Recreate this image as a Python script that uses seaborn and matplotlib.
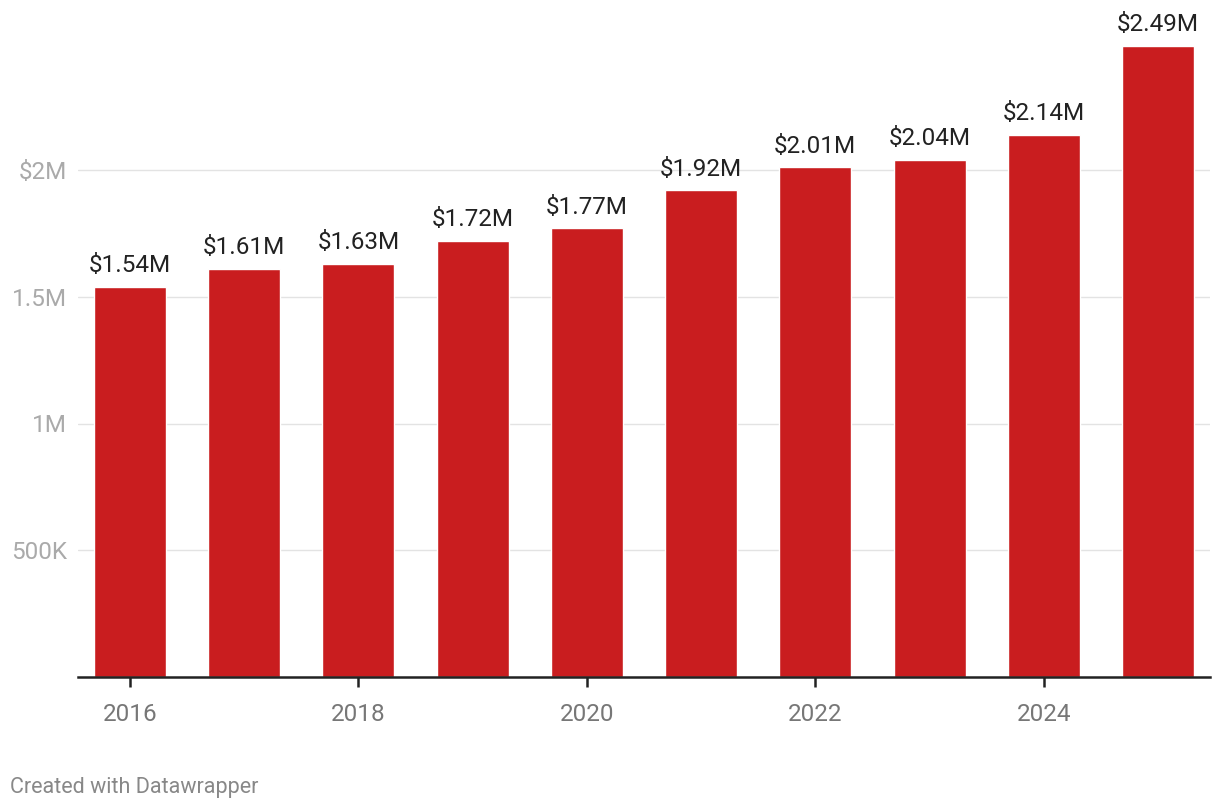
import pandas as pd
import seaborn as sns
import matplotlib.pyplot as plt

# dados do gráfico
anos = ['2016', '2017', '2018', '2019', '2020', '2021', '2022', '2023', '2024', '2025']
valores = [1.54, 1.61, 1.63, 1.72, 1.77, 1.92, 2.01, 2.04, 2.14, 2.49]  # em milhões
rotulos = ['$1.54M', '$1.61M', '$1.63M', '$1.72M', '$1.77M', '$1.92M', '$2.01M', '$2.04M', '$2.14M', '$2.49M']
ticks_y = [0.5, 1.0, 1.5, 2.0]
labels_y = ['500K', '1M', '1.5M', '$2M']

dados = pd.DataFrame({'ano': anos, 'valor': valores})

sns.set_style('white')
plt.rcParams['font.family'] = ['Roboto', 'DejaVu Sans']

fig = plt.figure(figsize=(12.2, 8.1), dpi=100)
ax = fig.add_axes([78 / 1220, 133 / 810, 1132 / 1220, 657 / 810])

sns.barplot(data=dados, x='ano', y='valor', order=anos, color='#c91d1f',
            saturation=1, width=0.63, ax=ax, zorder=3)

for i, (v, r) in enumerate(zip(valores, rotulos)):
    ax.annotate(r, (i, v), xytext=(0, 7), textcoords='offset points',
                ha='center', va='bottom', fontsize=17.5, color='#222222')

ax.set_xlim(-0.455, 9.455)
ax.set_ylim(0, (677 - 20) / 253.5)

ax.set_yticks(ticks_y)
ax.set_yticklabels(labels_y)
ax.grid(axis='y', color='#e3e3e3', linewidth=1, zorder=0)
ax.tick_params(axis='y', left=False, length=0, pad=8, labelsize=17.5, labelcolor='#aaaaaa')

ax.set_xticks([0, 2, 4, 6, 8])
ax.set_xticklabels(['2016', '2018', '2020', '2022', '2024'])
ax.tick_params(axis='x', bottom=True, direction='out', length=7, width=1.8,
               color='#222222', pad=12, labelsize=17.5, labelcolor='#777777')

for lado in ['top', 'right', 'left']:
    ax.spines[lado].set_visible(False)
ax.spines['bottom'].set_color('#222222')
ax.spines['bottom'].set_linewidth(1.8)
ax.spines['bottom'].set_zorder(4)

ax.set_xlabel('')
ax.set_ylabel('')

fig.text(10 / 1220, 1 - 787 / 810, 'Created with Datawrapper', fontsize=15.5,
         color='#888888', va='center', ha='left')

fig.savefig('out.png', dpi=100)
